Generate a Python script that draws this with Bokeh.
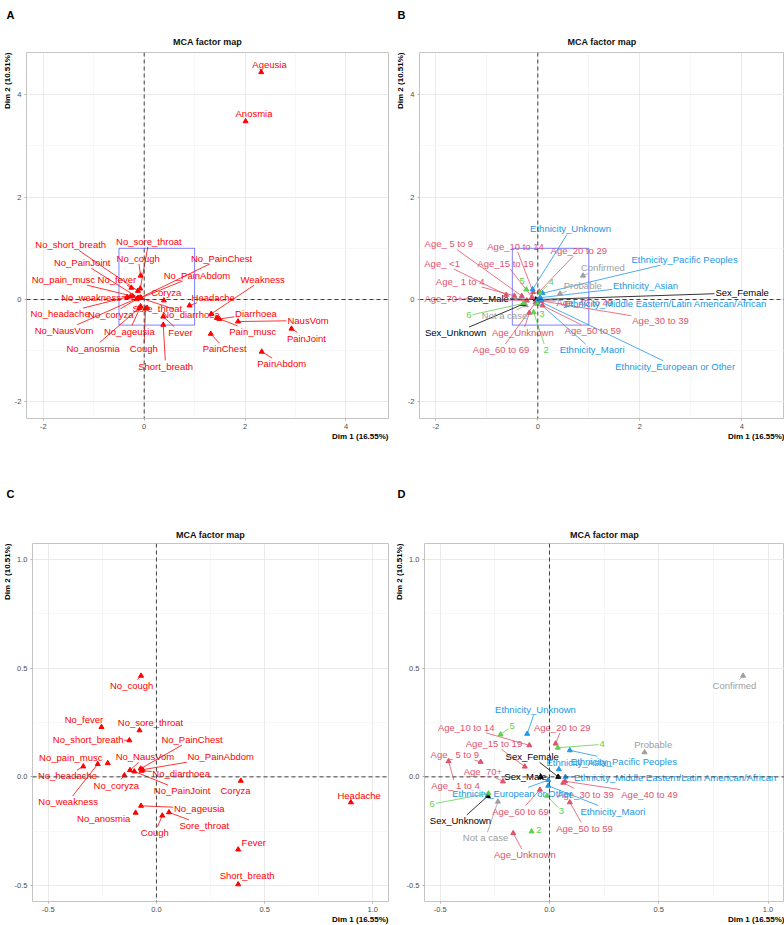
import math
from bokeh.plotting import figure
from bokeh.models import Span, Title, FixedTicker, Range1d, PrintfTickFormatter
from bokeh.layouts import row, column
from bokeh.embed import file_html
from bokeh.resources import INLINE
from bokeh.core.properties import value

# ------------------------------------------------------------------ data
dim1_pct = 16.55
dim2_pct = 10.51

sym_names = ["No_cough", "No_fever", "No_sore_throat", "No_short_breath", "No_pain_musc",
             "No_weakness", "No_headache", "No_coryza", "No_NausVom", "No_PainJoint",
             "No_PainChest", "No_PainAbdom", "No_diarrhoea", "No_ageusia", "No_anosmia",
             "Cough", "Sore_throat", "Coryza", "Headache", "Fever", "Short_breath",
             "Ageusia", "Anosmia", "Weakness", "Diarrhoea", "Pain_musc", "NausVom",
             "PainJoint", "PainChest", "PainAbdom"]
sym_dim1 = [-0.071, -0.254, -0.078, -0.125, -0.225, -0.271, -0.338, -0.148, -0.122, -0.102,
            -0.073, -0.064, -0.068, -0.071, -0.096, 0.027, 0.058, 0.390, 0.899, 0.378, 0.378,
            2.32, 2.01, 1.33, 1.49, 1.44, 1.86, 2.92, 1.32, 2.33]
sym_dim2 = [0.465, 0.229, 0.214, 0.168, 0.063, 0.059, 0.048, 0.007, 0.031, 0.025,
            0.038, 0.033, 0.028, -0.133, -0.165, -0.178, -0.163, -0.018, -0.117, -0.334, -0.494,
            4.44, 3.48, -0.28, -0.38, -0.36, -0.43, -0.57, -0.67, -1.02]

sup_names = ["Confirmed", "Probable", "Not a case",
             "Sex_Female", "Sex_Male", "Sex_Unknown",
             "Age_ <1", "Age_ 1 to 4", "Age_ 5 to 9", "Age_10 to 14", "Age_15 to 19",
             "Age_20 to 29", "Age_30 to 39", "Age_40 to 49", "Age_50 to 59", "Age_60 to 69",
             "Age_70+", "Age_Unknown",
             "Ethnicity_Asian", "Ethnicity_European or Other", "Ethnicity_Maori",
             "Ethnicity_Middle Eastern/Latin American/African", "Ethnicity_Pacific Peoples",
             "Ethnicity_Unknown",
             "2", "3", "4", "5", "6"]
sup_group = ["status", "status", "status",
             "sex", "sex", "sex",
             "age", "age", "age", "age", "age", "age", "age", "age", "age", "age", "age", "age",
             "ethnicity", "ethnicity", "ethnicity", "ethnicity", "ethnicity", "ethnicity",
             "number", "number", "number", "number", "number"]
sup_dim1 = [0.886, 0.435, -0.236,
            0.040, -0.040, -0.282,
            -0.62, -0.462, -0.315, -0.092, -0.113, 0.028, 0.063, 0.072, 0.093, -0.044, -0.213, -0.166,
            0.043, -0.006, -0.006, 0.073, 0.093, -0.102,
            -0.082, -0.011, 0.038, -0.224, -0.279]
sup_dim2 = [0.465, 0.113, -0.114,
            0.000, 0.000, -0.088,
            0.09, 0.072, 0.069, 0.145, 0.047, 0.153, -0.027, -0.020, -0.117, -0.059, -0.021, -0.259,
            0.035, -0.015, -0.041, 0.000, 0.122, 0.198,
            -0.251, -0.087, 0.134, 0.195, -0.076]

zoom_box = [-0.5, 1.0, -0.5, 1.0]          # left, right, bottom, top
wide_ticks = [-2, 0, 2, 4]
wide_minor = [-1, 1, 3]
zoom_ticks = [-0.5, 0.0, 0.5, 1.0]
zoom_minor = [-0.25, 0.25, 0.75]

# ------------------------------------------------------------------ style / layout
FONT = "Liberation Sans"
LAB_FS = 9.5
SYM_COLOR = "#FF0000"
GROUP_COLOR = {"status": "#9E9E9E", "sex": "#000000", "age": "#DF536B",
               "ethnicity": "#2297E6", "number": "#61D04F"}

# label offsets (px, screen, y down) relative to each point (repelled label layout)
offA = {"Ageusia": (8.4, -7.7), "Anosmia": (8.5, -7.8), "No_short_breath": (-67.9, -46.1),
        "No_sore_throat": (8.7, -47.3), "No_cough": (-2.4, -17.5), "No_PainChest": (82, -39.4),
        "No_PainJoint": (-57.5, -35.7), "No_PainAbdom": (56.6, -22.6), "No_pain_musc": (-70.2, -16.8),
        "No_fever": (-14.7, -8.3), "Weakness": (51.9, -34.3), "No_weakness": (-39.9, 0.7),
        "Coryza": (2.4, -8.2), "Headache": (23.9, -8.3), "No_headache": (-67.8, 16.8),
        "No_coryza": (-26.2, 15.4), "Sore_throat": (10.3, 1.0), "No_diarrhoea": (50.8, 16.7),
        "Diarrhoea": (37, -5.2), "NausVom": (70.8, -1), "Pain_musc": (36.3, 13.6),
        "No_NausVom": (-74.8, 32.6), "No_ageusia": (-11.4, 24.9), "Fever": (17.4, 15.9),
        "PainJoint": (15.1, 9.5), "No_anosmia": (-46.8, 40.3), "Cough": (-1.7, 40.2),
        "PainChest": (14, 15), "Short_breath": (2.4, 41.4), "PainAbdom": (20.2, 12.1)}
offC = {"No_cough": (-9.5, 9.7), "No_fever": (-17.7, -7.6), "No_sore_throat": (11.1, -8.2),
        "No_short_breath": (-41.6, -1), "No_PainChest": (52, -29.4), "No_pain_musc": (-37.4, -6.2),
        "No_NausVom": (15.1, -13.6), "No_PainAbdom": (79, -13.2), "No_headache": (-16, 9.5),
        "No_diarrhoea": (39.9, 2.7), "Coryza": (-5.3, 10.1), "No_coryza": (-8.2, 9.8),
        "No_PainJoint": (48.3, 19.5), "Headache": (8.3, -7.3), "No_weakness": (-30, 37.9),
        "No_ageusia": (58.9, 2.5), "No_anosmia": (-32.3, 6.2), "Sore_throat": (35.7, 13.4),
        "Cough": (-7.5, 17.4), "Fever": (15.7, -7.4), "Short_breath": (9, -8.4)}
offB = {"Confirmed": (19.8, -7.9), "Probable": (22.8, -8.2), "Not a case": (-21.3, 10.2),
        "Sex_Female": (202.3, -6.7), "Sex_Male": (-48, -1.3), "Sex_Unknown": (-67.9, 28.8),
        "Age_ <1": (-64.1, -31.7), "Age_ 1 to 4": (-54.1, -14.6), "Age_ 5 to 9": (-72.9, -52.2),
        "Age_10 to 14": (-17.6, -45.9), "Age_15 to 19": (-26.5, -33.9), "Age_20 to 29": (39.6, -41.2),
        "Age_30 to 39": (119.5, 19.6), "Age_40 to 49": (43.3, 2.0), "Age_50 to 59": (50.3, 25),
        "Age_60 to 69": (-34.5, 47.3), "Age_70+": (-83.4, -2.4), "Age_Unknown": (-6.5, 20),
        "Ethnicity_Asian": (105.5, -12.2), "Ethnicity_European or Other": (137.6, 66.2),
        "Ethnicity_Maori": (54.6, 48.2),
        "Ethnicity_Middle Eastern/Latin American/African": (123.8, 3.7),
        "Ethnicity_Pacific Peoples": (142, -33.8), "Ethnicity_Unknown": (37.9, -60.6),
        "2": (12.5, 37.4), "3": (4.6, 9.8), "4": (11.4, -10.4), "5": (-4.3, -8.3), "6": (-54.8, 12.1)}
offD = {"Confirmed": (-8.6, 9.7), "Probable": (8.7, -8), "Not a case": (-12.4, 36.4),
        "Sex_Female": (-26, -20.4), "Sex_Male": (-15.3, -0.4), "Sex_Unknown": (-27.4, 24.8),
        "Age_ 1 to 4": (6.9, 24.7), "Age_ 5 to 9": (-25.8, -7.6), "Age_10 to 14": (-63.2, -18.3),
        "Age_15 to 19": (-30.9, -23.1), "Age_20 to 29": (6.6, -16.5), "Age_30 to 39": (22.2, 11.4),
        "Age_40 to 49": (84.3, 12.9), "Age_50 to 59": (14.7, 26), "Age_60 to 69": (-19.4, 21.7),
        "Age_70+": (-20.1, -10), "Age_Unknown": (11.7, 21.7), "Ethnicity_Asian": (20, -7.3),
        "Ethnicity_European or Other": (-36, 13), "Ethnicity_Maori": (64.7, 25.6),
        "Ethnicity_Middle Eastern/Latin American/African": (110, 0.6),
        "Ethnicity_Pacific Peoples": (54.1, 11.7), "Ethnicity_Unknown": (8.3, -24.4),
        "2": (7.3, -1.9), "3": (14.4, 15.6), "4": (44.4, -3.4), "5": (11.6, -8.3), "6": (-56.3, 10.7)}

CW = {"i": .222, "l": .222, "j": .222, "f": .278, "t": .278, " ": .278, ".": .278, "/": .278,
      "r": .333, "(": .333, ")": .333, "I": .278, "m": .833, "w": .722, "M": .833, "W": .944,
      "<": .584, "+": .584, "%": .889, "s": .5, "c": .5, "k": .5, "v": .5, "x": .5, "y": .5,
      "z": .5, "O": .778, "C": .722, "N": .722, "D": .722, "H": .722, "L": .556, "F": .611}


def text_width(s, fs):
    w = 0.0
    for ch in s:
        if ch in CW:
            w += CW[ch]
        elif ch.isupper():
            w += 0.667
        else:
            w += 0.556
    return w * fs


def make_panel(letter, W, H, bl, br, bt, bb, xr, yr, ticks, minor, fmt, names, xs, ys, cols,
               offs, show_box, st_title, st_letter, letter_off):
    p = figure(width=W, height=H, x_range=Range1d(*xr), y_range=Range1d(*yr),
               output_backend="svg", toolbar_location=None, title=None,
               min_border_left=bl, min_border_right=br, min_border_top=bt, min_border_bottom=bb)
    p.background_fill_color = "white"
    p.border_fill_color = "white"
    p.outline_line_color = "#C4C4C4"
    p.outline_line_width = 1
    for ax in (p.xaxis[0], p.yaxis[0]):
        ax.ticker = FixedTicker(ticks=ticks, minor_ticks=minor)
        ax.formatter = PrintfTickFormatter(format=fmt)
        ax.axis_line_color = None
        ax.major_tick_line_color = "#B3B3B3"
        ax.major_tick_out = 2
        ax.major_tick_in = 0
        ax.minor_tick_line_color = None
        ax.major_label_standoff = 1
        ax.major_label_text_font = FONT
        ax.major_label_text_font_size = "7.5px"
        ax.major_label_text_color = "#4D4D4D"
    for g in (p.xgrid[0], p.ygrid[0]):
        g.grid_line_color = "#E4E4E4"
        g.grid_line_width = 0.8
        g.minor_grid_line_color = "#F1F1F1"
        g.minor_grid_line_width = 0.6

    fw = W - bl - br
    fh = H - bt - bb
    ppx = fw / (xr[1] - xr[0])
    ppy = fh / (yr[1] - yr[0])

    p.add_layout(Span(location=0, dimension="width", line_dash="4 3",
                      line_color="#404040", line_width=1))
    p.add_layout(Span(location=0, dimension="height", line_dash="4 3",
                      line_color="#404040", line_width=1))
    if show_box:
        p.quad(left=[zoom_box[0]], right=[zoom_box[1]], bottom=[zoom_box[2]], top=[zoom_box[3]],
               fill_color=None, line_color="#0000FF", line_alpha=0.5, line_width=1)

    px, py, pc, pn = [], [], [], []
    lx, ly = [], []
    s0x, s0y, s1x, s1y, sc = [], [], [], [], []
    for n, x, y, c in zip(names, xs, ys, cols):
        if not (xr[0] <= x <= xr[1] and yr[0] <= y <= yr[1]):
            continue
        px.append(x); py.append(y); pc.append(c); pn.append(n)
        dx, dy = offs[n]
        lx.append(x + dx / ppx); ly.append(y - dy / ppy)
        hw = text_width(n, LAB_FS) / 2 + 1.0
        hh = LAB_FS * 0.5 + 1.0
        vx, vy = -dx, -dy
        if abs(vx) <= hw and abs(vy) <= hh:
            continue
        t = min(hw / abs(vx) if vx else 1e9, hh / abs(vy) if vy else 1e9)
        ex, ey = dx + t * vx, dy + t * vy
        if math.hypot(ex, ey) < 5:
            continue
        s0x.append(x); s0y.append(y)
        s1x.append(x + ex / ppx); s1y.append(y - ey / ppy)
        sc.append(c)

    p.segment(x0=s0x, y0=s0y, x1=s1x, y1=s1y, line_color=sc, line_width=0.8)
    p.scatter(x=px, y=py, marker="triangle", size=5, fill_color=pc, line_color=pc)
    p.text(x=lx, y=ly, text=pn, text_color=pc, text_font=value(FONT),
           text_font_size=value(f"{LAB_FS}px"), text_align="center", text_baseline="middle")

    p.add_layout(Title(text="MCA factor map", align="center", text_font=FONT,
                       text_font_size="9px", text_font_style="bold", text_color="#111111",
                       standoff=st_title), "above")
    p.add_layout(Title(text=letter, align="left", vertical_align="top", offset=letter_off,
                       text_font=FONT, text_font_size="11px", text_font_style="bold",
                       text_color="black", standoff=st_letter), "above")
    p.add_layout(Title(text=f"Dim 2 ({dim2_pct:.2f}%)", align="right", text_font=FONT,
                       text_font_size="8px", text_font_style="bold", text_color="black",
                       standoff=0), "left")
    p.add_layout(Title(text=f"Dim 1 ({dim1_pct:.2f}%)", align="right", vertical_align="top",
                       text_font=FONT, text_font_size="8px", text_font_style="bold",
                       text_color="black", standoff=0), "below")
    return p


sym_cols = [SYM_COLOR] * len(sym_names)
sup_cols = [GROUP_COLOR[g] for g in sup_group]

WW = 392
HT, HB = 460, 465
pA = make_panel("A", WW, HT, 22, 4, 52, HT - 52 - 366, (-2.333, 4.843), (-2.324, 4.824),
                wide_ticks, wide_minor, "%d", sym_names, sym_dim1, sym_dim2, sym_cols, offA,
                True, 11, 13, -20)
pB = make_panel("B", WW, HT, 27, 0, 52, HT - 52 - 366, (-2.32, 4.837), (-2.324, 4.824),
                wide_ticks, wide_minor, "%d", sup_names, sup_dim1, sup_dim2, sup_cols, offB,
                True, 11, 13, -22)
pC = make_panel("C", WW, HB, 28, 4, 83, HB - 83 - 360, (-0.5727, 1.0727), (-0.573, 1.0732),
                zoom_ticks, zoom_minor, "%.1f", sym_names, sym_dim1, sym_dim2, sym_cols, offC,
                False, 8, 43, -26)
pD = make_panel("D", WW, HB, 32, 0, 83, HB - 83 - 360, (-0.572, 1.0755), (-0.573, 1.0732),
                zoom_ticks, zoom_minor, "%.1f", sup_names, sup_dim1, sup_dim2, sup_cols, offD,
                False, 8, 43, -27)

layout = column(row(pA, pB), row(pC, pD))
open("out.html", "w").write(file_html(layout, INLINE))
